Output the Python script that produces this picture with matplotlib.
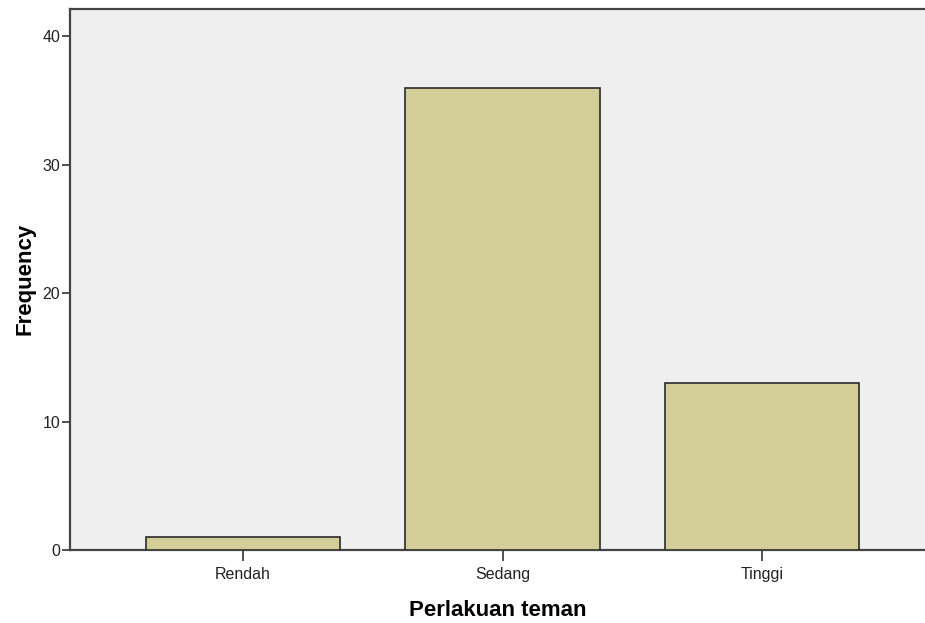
import matplotlib
matplotlib.use("Agg")
import matplotlib.pyplot as plt

categories = ["Rendah", "Sedang", "Tinggi"]
frequency = [1, 36, 13]
y_ticks = [0, 10, 20, 30, 40]

plt.rcParams['font.family'] = ['Liberation Sans', 'DejaVu Sans']

fig = plt.figure(figsize=(9.25, 6.23), dpi=100)
ax = fig.add_axes([70 / 925, 1 - 550 / 623, 1 - 70 / 925, (550 - 8.5) / 623])
ax.set_facecolor('#efefef')

x = list(range(len(categories)))
ax.bar(x, frequency, width=0.75, color='#d3ce97', edgecolor='#2b2b2b', linewidth=1.2, zorder=3)

ax.set_xlim(-0.667, 2.628)
ax.set_ylim(0, 42.15)
ax.set_xticks(x)
ax.set_xticklabels(categories, fontsize=11.5, color='#222222')
ax.set_yticks(y_ticks)
ax.set_yticklabels([str(t) for t in y_ticks], fontsize=11.5, color='#222222')
ax.tick_params(axis='x', direction='out', length=8, width=1.2, color='#333333', pad=4)
ax.tick_params(axis='y', direction='out', length=6, width=1.2, color='#333333', pad=1)

for side in ['left', 'bottom', 'top']:
    ax.spines[side].set_color('#444444')
    ax.spines[side].set_linewidth(1.6)
ax.spines['right'].set_visible(False)

ax.set_xlabel('Perlakuan teman', fontsize=16, fontweight='bold', labelpad=13)
ax.set_ylabel('Frequency', fontsize=16, fontweight='bold', labelpad=5)

fig.savefig('out.png', dpi=100)
